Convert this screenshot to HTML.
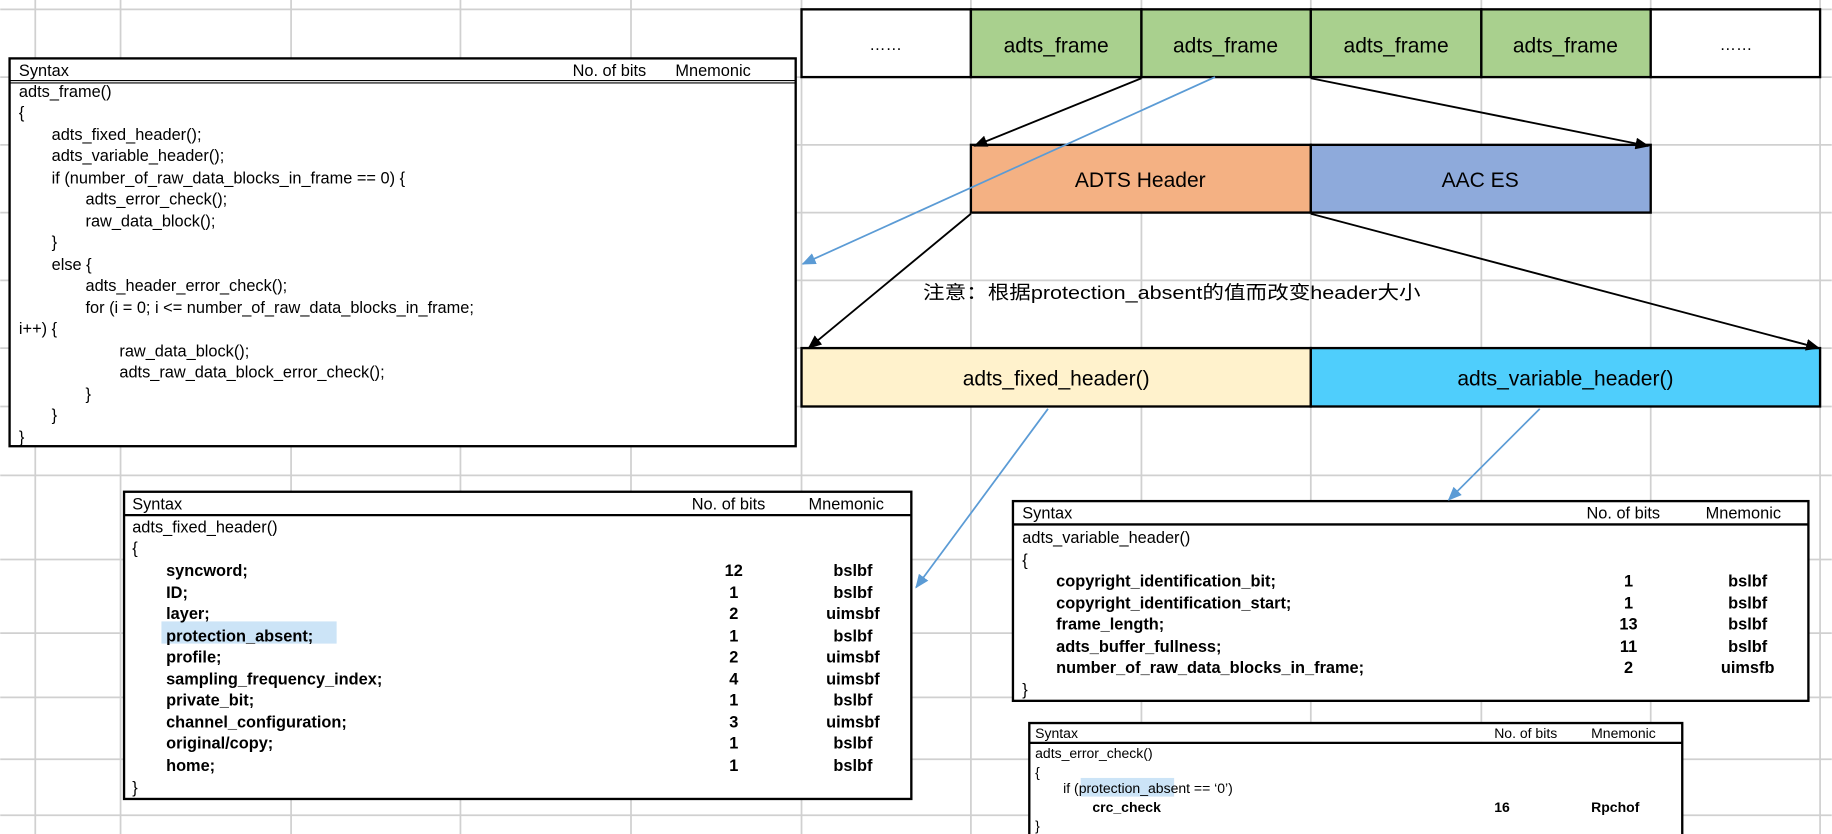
<!DOCTYPE html>
<html><head><meta charset="utf-8"><style>
html,body{margin:0;padding:0;background:#fff;width:1832px;height:834px;overflow:hidden}
svg{display:block}
text{font-family:"Liberation Sans","Noto Sans CJK SC",sans-serif;fill:#000}
.t{font-size:14px}
.b{font-size:14px;font-weight:bold}
.s{font-size:12px}
.sb{font-size:12px;font-weight:bold}
.L{font-size:18px}
</style></head><body>
<svg width="1832" height="834" viewBox="0 0 1568 714" xmlns="http://www.w3.org/2000/svg">
<defs>
<marker id="ak" markerWidth="12" markerHeight="10" refX="11" refY="5" orient="auto" markerUnits="userSpaceOnUse"><path d="M0,0 L12,5 L0,10 z" fill="#000"/></marker>
<marker id="ab" markerWidth="12" markerHeight="10" refX="11" refY="5" orient="auto" markerUnits="userSpaceOnUse"><path d="M0,0 L12,5 L0,10 z" fill="#5b9bd5"/></marker>
</defs>
<!-- grid -->
<g stroke="#d0d0d0" stroke-width="1.5">
<line x1="30" y1="0" x2="30" y2="714"/><line x1="103" y1="0" x2="103" y2="714"/>
<line x1="249" y1="0" x2="249" y2="714"/><line x1="394" y1="0" x2="394" y2="714"/>
<line x1="540" y1="0" x2="540" y2="714"/><line x1="686" y1="0" x2="686" y2="714"/>
<line x1="831" y1="0" x2="831" y2="714"/><line x1="977" y1="0" x2="977" y2="714"/>
<line x1="1122" y1="0" x2="1122" y2="714"/><line x1="1268" y1="0" x2="1268" y2="714"/>
<line x1="1413" y1="0" x2="1413" y2="714"/><line x1="1558" y1="0" x2="1558" y2="714"/>
<line x1="0" y1="8" x2="1568" y2="8"/><line x1="0" y1="66" x2="1568" y2="66"/>
<line x1="0" y1="124" x2="1568" y2="124"/><line x1="0" y1="182" x2="1568" y2="182"/>
<line x1="0" y1="240" x2="1568" y2="240"/><line x1="0" y1="298" x2="1568" y2="298"/>
<line x1="0" y1="348" x2="1568" y2="348"/><line x1="0" y1="407" x2="1568" y2="407"/>
<line x1="0" y1="479" x2="1568" y2="479"/><line x1="0" y1="542" x2="1568" y2="542"/>
<line x1="0" y1="597" x2="1568" y2="597"/><line x1="0" y1="650" x2="1568" y2="650"/>
<line x1="0" y1="698" x2="1568" y2="698"/>
</g>
<!-- white area behind note text -->
<!-- top frame row -->
<g stroke="#000" stroke-width="2">
<rect x="686" y="8" width="145" height="58" fill="#fff"/>
<rect x="831" y="8" width="146" height="58" fill="#a9d08e"/>
<rect x="977" y="8" width="145" height="58" fill="#a9d08e"/>
<rect x="1122" y="8" width="146" height="58" fill="#a9d08e"/>
<rect x="1268" y="8" width="145" height="58" fill="#a9d08e"/>
<rect x="1413" y="8" width="145" height="58" fill="#fff"/>
<rect x="831" y="124" width="291" height="58" fill="#f4b183"/>
<rect x="1122" y="124" width="291" height="58" fill="#8eaadb"/>
<rect x="686" y="298" width="436" height="50" fill="#fff2cc"/>
<rect x="1122" y="298" width="436" height="50" fill="#4fcefc"/>
</g>
<g class="L" text-anchor="middle">
<text x="758" y="43" font-size="14">……</text>
<text x="904" y="45">adts_frame</text>
<text x="1049" y="45">adts_frame</text>
<text x="1195" y="45">adts_frame</text>
<text x="1340" y="45">adts_frame</text>
<text x="1486" y="43" font-size="14">……</text>
<text x="976" y="160">ADTS Header</text>
<text x="1267" y="160">AAC ES</text>
<text x="904" y="330">adts_fixed_header()</text>
<text x="1340" y="330">adts_variable_header()</text>
</g>
<text x="790" y="256" font-size="16" textLength="426" lengthAdjust="spacingAndGlyphs">注意：根据protection_absent的值而改变header大小</text>
<!-- black arrows -->
<g stroke="#000" stroke-width="1.6" fill="none">
<line x1="977" y1="67" x2="834" y2="125" marker-end="url(#ak)"/>
<line x1="1122" y1="67" x2="1411" y2="125" marker-end="url(#ak)"/>
<line x1="831" y1="183" x2="692" y2="298" marker-end="url(#ak)"/>
<line x1="1122" y1="183" x2="1557" y2="298" marker-end="url(#ak)"/>
</g>
<!-- table 1 -->
<rect x="8" y="50" width="673" height="332" fill="#fff" stroke="#000" stroke-width="2"/>
<line x1="8" y1="69" x2="681" y2="69" stroke="#000" stroke-width="1"/>
<line x1="8" y1="71" x2="681" y2="71" stroke="#000" stroke-width="1"/>
<g class="t">
<text x="16" y="65">Syntax</text><text x="490" y="65">No. of bits</text><text x="578" y="65">Mnemonic</text>
<text x="16" y="83">adts_frame()</text>
<text x="16" y="101">{</text>
<text x="44" y="120">adts_fixed_header();</text>
<text x="44" y="138">adts_variable_header();</text>
<text x="44" y="157">if (number_of_raw_data_blocks_in_frame == 0) {</text>
<text x="73" y="175">adts_error_check();</text>
<text x="73" y="194">raw_data_block();</text>
<text x="44" y="212">}</text>
<text x="44" y="231">else {</text>
<text x="73" y="249">adts_header_error_check();</text>
<text x="73" y="268">for (i = 0; i &lt;= number_of_raw_data_blocks_in_frame;</text>
<text x="16" y="286">i++) {</text>
<text x="102" y="305">raw_data_block();</text>
<text x="102" y="323">adts_raw_data_block_error_check();</text>
<text x="73" y="342">}</text>
<text x="44" y="360">}</text>
<text x="16" y="379">}</text>
</g>
<!-- table 2 -->
<rect x="106" y="421" width="674" height="263" fill="#fff" stroke="#000" stroke-width="2"/>
<line x1="106" y1="441" x2="780" y2="441" stroke="#000" stroke-width="2"/>
<rect x="138" y="532" width="150" height="19" fill="#cce4f7"/>
<g class="t">
<text x="113" y="436">Syntax</text><text x="592" y="436">No. of bits</text><text x="692" y="436">Mnemonic</text>
<text x="113" y="456">adts_fixed_header()</text>
<text x="113" y="474">{</text>
<text x="113" y="679">}</text>
</g>
<g class="b">
<text x="142" y="493">syncword;</text>
<text x="142" y="512">ID;</text>
<text x="142" y="530">layer;</text>
<text x="142" y="549">protection_absent;</text>
<text x="142" y="567">profile;</text>
<text x="142" y="586">sampling_frequency_index;</text>
<text x="142" y="604">private_bit;</text>
<text x="142" y="623">channel_configuration;</text>
<text x="142" y="641">original/copy;</text>
<text x="142" y="660">home;</text>
</g>
<g class="b" text-anchor="middle">
<text x="628" y="493">12</text><text x="730" y="493">bslbf</text>
<text x="628" y="512">1</text><text x="730" y="512">bslbf</text>
<text x="628" y="530">2</text><text x="730" y="530">uimsbf</text>
<text x="628" y="549">1</text><text x="730" y="549">bslbf</text>
<text x="628" y="567">2</text><text x="730" y="567">uimsbf</text>
<text x="628" y="586">4</text><text x="730" y="586">uimsbf</text>
<text x="628" y="604">1</text><text x="730" y="604">bslbf</text>
<text x="628" y="623">3</text><text x="730" y="623">uimsbf</text>
<text x="628" y="641">1</text><text x="730" y="641">bslbf</text>
<text x="628" y="660">1</text><text x="730" y="660">bslbf</text>
</g>
<!-- table 3 -->
<rect x="867" y="429" width="681" height="171" fill="#fff" stroke="#000" stroke-width="2"/>
<line x1="867" y1="449" x2="1548" y2="449" stroke="#000" stroke-width="2"/>
<g class="t">
<text x="875" y="444">Syntax</text><text x="1358" y="444">No. of bits</text><text x="1460" y="444">Mnemonic</text>
<text x="875" y="465">adts_variable_header()</text>
<text x="875" y="484">{</text>
<text x="875" y="595">}</text>
</g>
<g class="b">
<text x="904" y="502">copyright_identification_bit;</text>
<text x="904" y="521">copyright_identification_start;</text>
<text x="904" y="539">frame_length;</text>
<text x="904" y="558">adts_buffer_fullness;</text>
<text x="904" y="576">number_of_raw_data_blocks_in_frame;</text>
</g>
<g class="b" text-anchor="middle">
<text x="1394" y="502">1</text><text x="1496" y="502">bslbf</text>
<text x="1394" y="521">1</text><text x="1496" y="521">bslbf</text>
<text x="1394" y="539">13</text><text x="1496" y="539">bslbf</text>
<text x="1394" y="558">11</text><text x="1496" y="558">bslbf</text>
<text x="1394" y="576">2</text><text x="1496" y="576">uimsfb</text>
</g>
<!-- table 4 -->
<rect x="881" y="619" width="559" height="100" fill="#fff" stroke="#000" stroke-width="2"/>
<line x1="881" y1="636" x2="1440" y2="636" stroke="#000" stroke-width="2"/>
<rect x="925" y="666" width="80" height="16" fill="#cce4f7"/>
<g class="s">
<text x="886" y="632">Syntax</text><text x="1279" y="632">No. of bits</text><text x="1362" y="632">Mnemonic</text>
<text x="886" y="649">adts_error_check()</text>
<text x="886" y="665">{</text>
<text x="910" y="679">if  (protection_absent == ‘0’)</text>
<text x="886" y="711">}</text>
</g>
<g class="sb">
<text x="935" y="695">crc_check</text>
<text x="1279" y="695">16</text>
<text x="1362" y="695">Rpchof</text>
</g>
<!-- blue arrows -->
<g stroke="#5b9bd5" stroke-width="1.5" fill="none">
<line x1="1040" y1="66" x2="687" y2="226" marker-end="url(#ab)"/>
<line x1="897" y1="350" x2="784" y2="503" marker-end="url(#ab)"/>
<line x1="1318" y1="350" x2="1240" y2="428" marker-end="url(#ab)"/>
</g>
</svg>
</body></html>
